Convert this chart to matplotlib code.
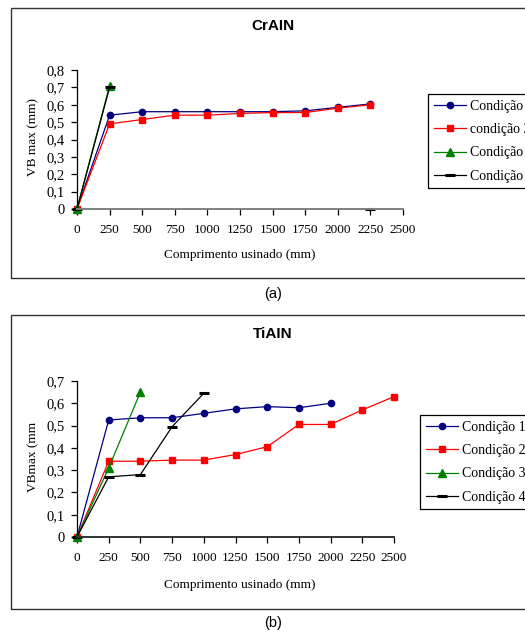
import matplotlib.pyplot as plt
import matplotlib.patches as mpatches
import numpy as np

# comprimento usinado (mm)
x = [0, 250, 500, 750, 1000, 1250, 1500, 1750, 2000, 2250, 2500]
nan = np.nan

# (a) CrAIN
a_cond1 = [0, 0.54, 0.56, 0.56, 0.56, 0.56, 0.56, 0.565, 0.585, 0.605, nan]
a_cond2 = [0, 0.49, 0.515, 0.54, 0.54, 0.55, 0.555, 0.555, 0.58, 0.60, nan]
a_cond3 = [0, 0.71, nan, nan, nan, nan, nan, nan, nan, nan, nan]
a_cond4 = [0, 0.70, nan, nan, nan, nan, nan, nan, nan, 0, nan]
a_labels = ['Condição 1', 'condição 2', 'Condição 3', 'Condição 4']

# (b) TiAIN
b_cond1 = [0, 0.525, 0.535, 0.535, 0.555, 0.575, 0.585, 0.58, 0.60, nan, nan]
b_cond2 = [0, 0.34, 0.34, 0.345, 0.345, 0.37, 0.405, 0.505, 0.505, 0.57, 0.63]
b_cond3 = [0, 0.31, 0.65, nan, nan, nan, nan, nan, nan, nan, nan]
b_cond4 = [0, 0.27, 0.28, 0.495, 0.645, nan, nan, nan, nan, nan, nan]
b_labels = ['Condição 1', 'Condição 2', 'Condição 3', 'Condição 4']

xticks = [0, 250, 500, 750, 1000, 1250, 1500, 1750, 2000, 2250, 2500]

W, H = 525, 632
fig = plt.figure(figsize=(W / 100, H / 100), dpi=100)

serif = 'Liberation Serif'
sans = 'Liberation Sans'

styles = [
    dict(color='#000080', marker='o', markersize=4.5),
    dict(color='#FF0000', marker='s', markersize=5),
    dict(color='#008000', marker='^', markersize=5.5),
    dict(color='black', marker='_', markersize=7, markeredgewidth=2.2),
]


def fx(px):
    return px / W


def fy(py):
    return 1 - py / H


def painel(rect, series, labels, ymax, ylabel, title, letra, frame, leg_xy, ty, ly, xl_y, botcolor):
    # moldura externa do grafico (frame = topo, base em pixels)
    fig.patches.append(mpatches.Rectangle((fx(11), fy(frame[1])), 1.0, fy(frame[0]) - fy(frame[1]),
                                          transform=fig.transFigure, fill=False,
                                          edgecolor='#333333', lw=1.0))
    ax = fig.add_axes(rect)
    for s, lab, st in zip(series, labels, styles):
        ax.plot(x, s, lw=0.9, label=lab, clip_on=False, **st)
    ax.set_xlim(0, 2500)
    ax.set_ylim(0, ymax)
    ax.set_xticks(xticks)
    ax.set_xticklabels([str(t) for t in xticks], fontfamily=serif, fontsize=9.5)
    yt = np.round(np.arange(0, ymax + 0.001, 0.1), 1)
    ax.set_yticks(yt)
    ax.set_yticklabels(['0' if v == 0 else ('%.1f' % v).replace('.', ',') for v in yt],
                       fontfamily=serif, fontsize=10.5)
    ax.spines['top'].set_visible(False)
    ax.spines['right'].set_visible(False)
    ax.spines['left'].set_linewidth(0.9)
    ax.spines['bottom'].set_color(botcolor)
    ax.spines['bottom'].set_linewidth(1.4)
    ax.tick_params(axis='both', direction='out', length=4, width=0.9, pad=5)
    ax.tick_params(axis='x', pad=7)
    ax.patch.set_alpha(0)

    fig.text(fx(33), fy(ly), ylabel, rotation=90, ha='center', va='center',
             fontfamily=serif, fontsize=9.5)
    fig.text(fx(240), fy(xl_y), 'Comprimento usinado (mm)', ha='center', va='center',
             fontfamily=serif, fontsize=9.5)
    fig.text(fx(273), fy(ty), title, ha='center', va='center',
             fontfamily=sans, fontsize=11, fontweight='bold')
    fig.text(fx(273), fy(letra[1]), letra[0], ha='center', va='center',
             fontfamily=sans, fontsize=10.5)

    leg = ax.legend(loc='upper left', bbox_to_anchor=(fx(leg_xy[0]), fy(leg_xy[1])),
                    bbox_transform=fig.transFigure, borderaxespad=0,
                    prop={'family': serif, 'size': 10}, handlelength=2.3,
                    handletextpad=0.3, labelspacing=0.75, borderpad=0.4,
                    fancybox=False, framealpha=1, edgecolor='black')
    leg.get_frame().set_linewidth(0.9)
    return ax


painel([fx(77), fy(209), fx(403) - fx(77), fy(70) - fy(209)],
       [a_cond1, a_cond2, a_cond3, a_cond4], a_labels, 0.8, 'VB max (mm)', 'CrAIN',
       ('(a)', 294), (8, 278), (428, 94), 26, 137, 255, '#808080')

painel([fx(77), fy(537), fx(394) - fx(77), fy(381) - fy(537)],
       [b_cond1, b_cond2, b_cond3, b_cond4], b_labels, 0.7, 'VBmax (mm', 'TiAIN',
       ('(b)', 623), (315, 609), (420, 415), 334, 457, 585, '#333333')

fig.savefig('out.png', dpi=100)
